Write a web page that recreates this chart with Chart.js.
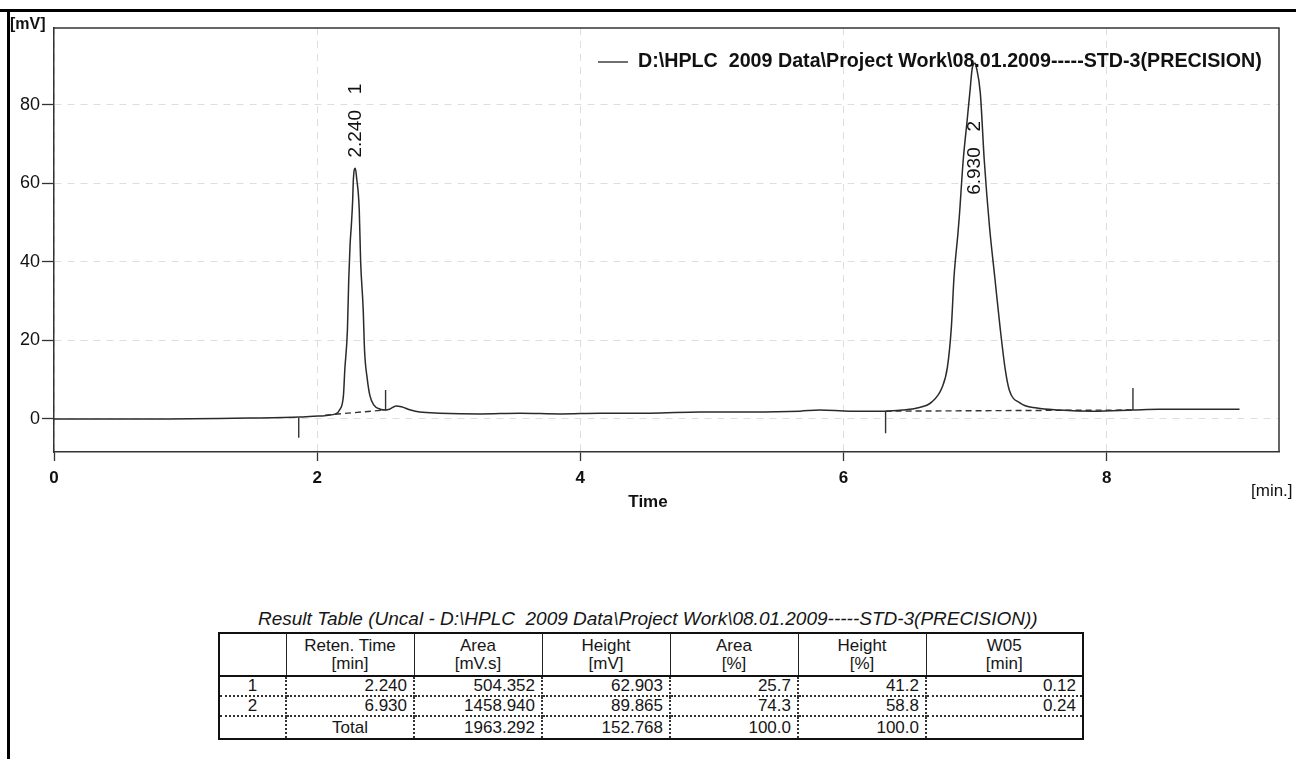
<!DOCTYPE html>
<html>
<head>
<meta charset="utf-8">
<script src="https://cdn.jsdelivr.net/npm/chart.js@4.4.1/dist/chart.umd.min.js"></script>
<style>
  html, body { margin: 0; padding: 0; background: #fff; }
  body { width: 1296px; height: 759px; position: relative; overflow: hidden;
         font-family: "Liberation Sans", Arial, sans-serif; color: #161616; }
  #frameTop { position: absolute; left: 0; top: 9px; width: 1296px; height: 3px; background: #000; }
  #frameLeft { position: absolute; left: 7px; top: 9px; width: 3px; height: 750px; background: #000; }
  #wrap { position: absolute; left: 0; top: 0; width: 1296px; height: 540px; }
  #resTitle { position: absolute; left: 258px; top: 608px; font-style: italic; font-size: 19px; white-space: pre; }
  #resTable { position: absolute; left: 218px; top: 632px; border-collapse: collapse;
              border: 2px solid #111; font-size: 17px; table-layout: fixed; }
  #resTable th { font-weight: normal; line-height: 18px; padding: 3px 0 2px 0; text-align: center;
                 border-left: 1.5px solid #222; border-right: 1.5px solid #222; border-bottom: 2px solid #111; }
  #resTable td { border: 2px dotted #333; text-align: right; padding: 0 6px; height: 18px; line-height: 18px; }
  #resTable td.c { text-align: center; }
  #resTable tr.tot td { height: 21px; }
</style>
</head>
<body>
<div id="frameTop"></div>
<div id="frameLeft"></div>
<div id="wrap"><canvas id="hplc" width="1296" height="540"></canvas></div>
<div id="resTitle">Result Table (Uncal - D:\HPLC  2009 Data\Project Work\08.01.2009-----STD-3(PRECISION))</div>
<table id="resTable"></table>
<script>
// chromatogram trace (time in min, signal in mV)
const traceTime = [0.00, 0.73, 1.49, 1.87, 2.01, 2.14, 2.17, 2.20, 2.21, 2.23, 2.24, 2.25, 2.26, 2.27, 2.275,
  2.29, 2.30, 2.32, 2.33, 2.35, 2.36, 2.38, 2.40, 2.43, 2.48, 2.52, 2.55, 2.60, 2.64, 2.71, 2.78, 2.93,
  3.24, 3.54, 3.85, 4.15, 4.53, 4.91, 5.29, 5.67, 5.82, 6.05, 6.32, 6.45, 6.56, 6.67, 6.75, 6.79, 6.82,
  6.84, 6.87, 6.88, 6.91, 6.94, 6.96, 6.98, 7.00, 7.01, 7.04, 7.07, 7.11, 7.15, 7.19, 7.23, 7.26, 7.34,
  7.47, 7.64, 7.90, 8.20, 8.40, 9.01];
const traceSignal = [-0.1, -0.1, 0.15, 0.4, 0.66, 1.2, 2.2, 6.0, 12.4, 22.6, 35.3, 44.2, 49.3, 55.7, 60.8,
  63.8, 61.3, 53.1, 40.4, 27.7, 17.5, 10.3, 6.0, 3.5, 2.4, 2.2, 2.4, 3.2, 3.0, 2.2, 1.7, 1.4,
  1.2, 1.4, 1.2, 1.4, 1.4, 1.7, 1.7, 1.9, 2.2, 1.9, 1.9, 2.2, 2.7, 4.2, 8.0, 13.1, 23.3,
  36.0, 47.2, 51.3, 65.8, 76.0, 82.9, 89.5, 90.5, 89.5, 82.9, 65.8, 48.8, 36.0, 23.3, 12.4, 7.3, 4.0,
  2.7, 2.2, 1.9, 2.2, 2.4, 2.4];

// integration marks (start/end ticks) and dashed baselines
const markTime = [1.86, 2.52, 6.32, 8.20];
const markFrom = [0.15, 2.2, 1.9, 2.2];
const markTo = [-4.9, 7.3, -3.7, 7.8];
const baseStartTime = [2.06, 6.32];
const baseStartVal = [0.9, 1.9];
const baseEndTime = [2.52, 8.20];
const baseEndVal = [2.2, 2.2];

// result table
const peakIds = ['1', '2'];
const retTime = ['2.240', '6.930'];
const areaVals = ['504.352', '1458.940'];
const heightVals = ['62.903', '89.865'];
const areaPct = ['25.7', '74.3'];
const heightPct = ['41.2', '58.8'];
const w05 = ['0.12', '0.24'];
const totals = ['Total', '1963.292', '152.768', '100.0', '100.0', ''];
const headTop = ['', 'Reten. Time', 'Area', 'Height', 'Area', 'Height', 'W05'];
const headBottom = ['', '[min]', '[mV.s]', '[mV]', '[%]', '[%]', '[min]'];
const colWidths = [67, 128, 128, 128, 128, 128, 157];

const legendText = 'D:\\HPLC  2009 Data\\Project Work\\08.01.2009-----STD-3(PRECISION)';
// where the rotated peak labels start (apex time, signal level)
const peakLabelTime = [2.29, 7.00];
const peakLabelAt = [66.5, 57];

window.addEventListener('load', function () {
  // table
  const tbl = document.getElementById('resTable');
  let html = '<colgroup>' + colWidths.map(w => '<col style="width:' + w + 'px">').join('') + '</colgroup>';
  html += '<tr>' + headTop.map((h, i) => '<th>' + h + '<br>' + headBottom[i] + '</th>').join('') + '</tr>';
  for (let i = 0; i < peakIds.length; i++) {
    html += '<tr><td class="c">' + peakIds[i] + '</td><td>' + retTime[i] + '</td><td>' + areaVals[i] +
      '</td><td>' + heightVals[i] + '</td><td>' + areaPct[i] + '</td><td>' + heightPct[i] + '</td><td>' + w05[i] + '</td></tr>';
  }
  html += '<tr class="tot"><td></td>' + totals.map((v, i) => '<td' + (i === 0 ? ' class="c"' : '') + '>' + v + '</td>').join('') + '</tr>';
  tbl.innerHTML = html;

  const ctx = document.getElementById('hplc');

  const datasets = [{
    data: traceTime.map((t, i) => ({ x: t, y: traceSignal[i] })),
    borderColor: '#2a2a2a', borderWidth: 1.5, pointRadius: 0,
    cubicInterpolationMode: 'monotone'
  }];
  for (let i = 0; i < baseStartTime.length; i++) {
    datasets.push({
      data: [{ x: baseStartTime[i], y: baseStartVal[i] }, { x: baseEndTime[i], y: baseEndVal[i] }],
      borderColor: '#333', borderWidth: 1.4, borderDash: [6, 4], pointRadius: 0
    });
  }
  for (let i = 0; i < markTime.length; i++) {
    datasets.push({
      data: [{ x: markTime[i], y: markFrom[i] }, { x: markTime[i], y: markTo[i] }],
      borderColor: '#333', borderWidth: 1.4, pointRadius: 0
    });
  }

  const fitFont = (c, text, weight, width) => {
    c.font = weight + ' 20px "Liberation Sans", Arial, sans-serif';
    const size = 20 * width / c.measureText(text).width;
    c.font = weight + ' ' + size.toFixed(2) + 'px "Liberation Sans", Arial, sans-serif';
  };

  const extras = {
    id: 'extras',
    afterDraw(chart) {
      const c = chart.ctx, a = chart.chartArea;
      const xs = chart.scales.x, ys = chart.scales.y;
      c.save();
      // plot frame (top and right)
      c.strokeStyle = '#333'; c.lineWidth = 1.5;
      c.beginPath();
      c.moveTo(a.left, a.top); c.lineTo(a.right, a.top); c.lineTo(a.right, a.bottom);
      c.stroke();
      // legend
      c.strokeStyle = '#222'; c.lineWidth = 1.3;
      c.beginPath(); c.moveTo(598, 62); c.lineTo(628, 62); c.stroke();
      c.fillStyle = '#111'; c.textBaseline = 'middle'; c.textAlign = 'left';
      fitFont(c, legendText, 'bold', 624);
      c.fillText(legendText, 638, 62);
      // axis units
      c.font = 'bold 16px "Liberation Sans", Arial, sans-serif';
      c.fillText('[mV]', 10, 25);
      c.font = '17px "Liberation Sans", Arial, sans-serif';
      c.fillText('[min.]', 1251, 491);
      c.font = 'bold 17px "Liberation Sans", Arial, sans-serif';
      c.textAlign = 'center';
      c.fillText('Time', 648, 502);
      // peak labels, rotated
      c.font = '19px "Liberation Sans", Arial, sans-serif';
      c.textAlign = 'left';
      for (let i = 0; i < peakLabelTime.length; i++) {
        c.save();
        c.translate(xs.getPixelForValue(peakLabelTime[i]), ys.getPixelForValue(peakLabelAt[i]));
        c.rotate(-Math.PI / 2);
        c.fillText(retTime[i] + '   ' + peakIds[i], 0, 0);
        c.restore();
      }
      c.restore();
    }
  };

  new Chart(ctx, {
    type: 'line',
    data: { datasets: datasets },
    options: {
      responsive: false, animation: false,
      layout: { padding: { top: 28, right: 17, left: 0, bottom: 0 } },
      plugins: { legend: { display: false }, tooltip: { enabled: false } },
      scales: {
        x: {
          type: 'linear', min: 0, max: 9.31,
          afterFit: s => { s.height = 88; },
          afterBuildTicks: s => { s.ticks = s.ticks.filter(t => t.value % 2 === 0); },
          ticks: { stepSize: 2, color: '#111', padding: 7, maxRotation: 0,
                   font: { family: '"Liberation Sans", Arial, sans-serif', size: 17, weight: 'bold' } },
          grid: { color: '#dedede', lineWidth: 1, tickColor: '#333', tickLength: 9, tickWidth: 1.3 },
          border: { color: '#333', width: 1.5, dash: [7, 6] }
        },
        y: {
          min: -8.5, max: 99.5,
          afterFit: s => { s.width = 54; },
          afterBuildTicks: s => { s.ticks = s.ticks.filter(t => t.value % 20 === 0 && t.value >= 0); },
          ticks: { stepSize: 20, color: '#111', padding: 2,
                   font: { family: '"Liberation Sans", Arial, sans-serif', size: 18 } },
          grid: { color: '#dedede', lineWidth: 1, tickColor: '#333', tickLength: 12, tickWidth: 1.3 },
          border: { color: '#333', width: 1.5, dash: [7, 6] }
        }
      }
    },
    plugins: [extras]
  });
});
</script>
</body>
</html>
